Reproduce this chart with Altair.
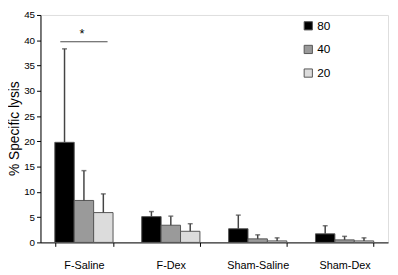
import altair as alt
import pandas as pd

groups = ["F-Saline", "F-Dex", "Sham-Saline", "Sham-Dex"]
series = ["80", "40", "20"]
values = {
    "80": [19.8, 5.1, 2.7, 1.7],
    "40": [8.3, 3.4, 0.7, 0.5],
    "20": [5.9, 2.2, 0.3, 0.3],
}
err_top = {
    "80": [38.3, 6.1, 5.4, 3.3],
    "40": [14.2, 5.2, 1.5, 1.2],
    "20": [9.6, 3.7, 0.9, 0.9],
}
colors = ["#000000", "#9a9a9a", "#dcdcdc"]
y_ticks = [0, 5, 10, 15, 20, 25, 30, 35, 40, 45]
sig_group = ["F-Saline"]
sig_y = [39.7]
star_y = [42.0]

rows = []
for s in series:
    for i, g in enumerate(groups):
        rows.append({"group": g, "series": s, "value": values[s][i], "err": err_top[s][i]})
df = pd.DataFrame(rows)
sig = pd.DataFrame({"group": sig_group, "y": sig_y, "star": star_y, "label": ["*"]})

FONT = "Liberation Sans"

xaxis = alt.Axis(title=None, tickBand="extent", labelAngle=0, labelFontSize=11,
                 labelPadding=14, labelColor="#000", labelFont=FONT,
                 domainColor="#000", tickColor="#000", tickSize=4)
yaxis = alt.Axis(title="% Specific lysis", values=y_ticks, grid=False,
                 labelOverlap=False, tickCount=10,
                 titleFontSize=14, titleFont=FONT, titleColor="#000", titleFontWeight="normal",
                 titleX=-33, titleY=115, titleAngle=-90, titleBaseline="top",
                 titleAlign="center",
                 labelFontSize=10, labelFont=FONT, labelColor="#000",
                 domainColor="#000", tickColor="#000", tickSize=4)
xscale = alt.Scale(paddingInner=0.33, paddingOuter=0.165)
xenc = alt.X("group:N", sort=groups, scale=xscale, axis=xaxis)
xoff = alt.XOffset("series:N", sort=series, scale=alt.Scale(paddingInner=0, paddingOuter=0))
yscale = alt.Scale(domain=[0, 45], nice=False)

bars = alt.Chart(df).mark_bar(stroke="#555555", strokeWidth=1).encode(
    x=xenc,
    xOffset=xoff,
    y=alt.Y("value:Q", scale=yscale, axis=yaxis),
    color=alt.Color("series:N", sort=series,
                    scale=alt.Scale(domain=series, range=colors),
                    legend=alt.Legend(title=None, orient="none", legendX=266, legendY=5,
                                      symbolType="square", symbolSize=70,
                                      symbolStrokeColor="#555555", symbolStrokeWidth=1,
                                      labelFontSize=12, labelFont=FONT, labelColor="#000",
                                      rowPadding=10, labelOffset=3)),
)

err = alt.Chart(df).mark_rule(color="#444444", strokeWidth=1.5).encode(
    x=xenc, xOffset=xoff,
    y=alt.Y("value:Q", scale=yscale, axis=yaxis), y2="err:Q",
)
caps = alt.Chart(df).mark_tick(color="#444444", thickness=1.5, size=5).encode(
    x=xenc, xOffset=xoff,
    y=alt.Y("err:Q", scale=yscale, axis=yaxis),
)
sig_line = alt.Chart(sig).mark_tick(color="#000000", thickness=1.2, size=48).encode(
    x=xenc,
    y=alt.Y("y:Q", scale=yscale, axis=yaxis),
)
star = alt.Chart(sig).mark_text(fontSize=13, font=FONT, color="#000", dx=-2, dy=4).encode(
    x=xenc,
    y=alt.Y("star:Q", scale=yscale, axis=yaxis),
    text="label:N",
)

chart = alt.layer(bars, err, caps, sig_line, star).properties(
    width=353, height=231,
    padding={"left": 33, "top": 5, "right": 2, "bottom": 30},
    autosize=alt.AutoSizeParams(type="none"),
).configure_view(stroke=None).configure(background="white")

chart.save("out.html", embed_options={"renderer": "svg", "actions": False})
